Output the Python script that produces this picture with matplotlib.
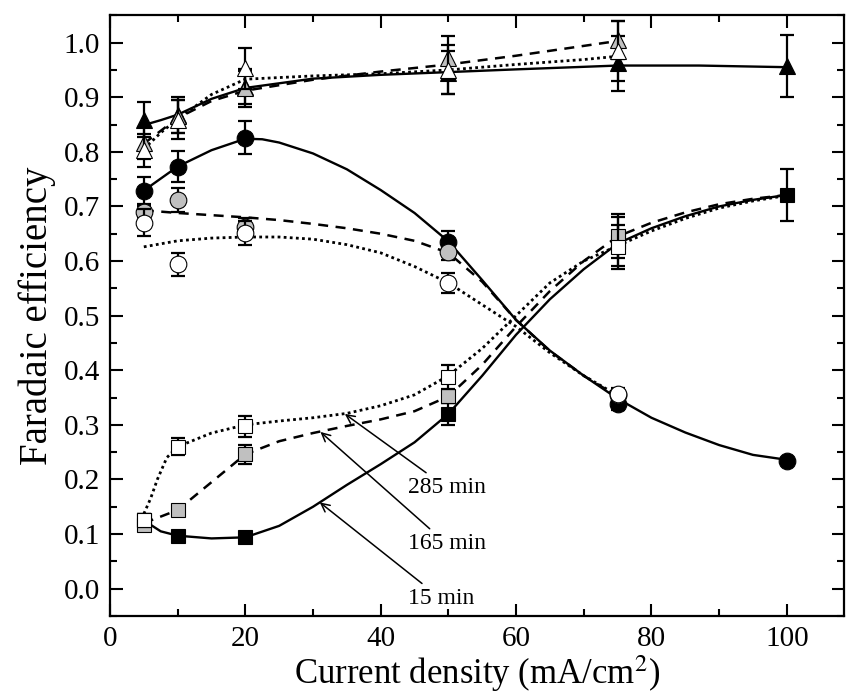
import numpy as np
import matplotlib
matplotlib.use('Agg')
import matplotlib.pyplot as plt
from matplotlib.ticker import MultipleLocator, FormatStrFormatter

plt.rcParams['font.family'] = ['Liberation Serif', 'DejaVu Serif']
plt.rcParams['mathtext.fontset'] = 'stix'

# измерения: плотность тока (мА/см2)
j = [5, 10, 20, 50, 75, 100]

# треугольники
tri_15 = [0.859, 0.868, 0.918, 0.945, 0.962, 0.957]
tri_15_err = [0.032, 0.033, 0.03, 0.04, 0.05, 0.057]
tri_165 = [0.816, 0.865, 0.917, 0.972, 1.005]
tri_165_err = [0.03, 0.03, 0.035, 0.04, 0.035]
tri_285 = [0.803, 0.859, 0.953, 0.950, 0.984]
tri_285_err = [0.03, 0.035, 0.038, 0.045, 0.055]

# круги
cir_15 = [0.729, 0.773, 0.826, 0.635, 0.338, 0.234]
cir_15_err = [0.025, 0.028, 0.03, 0.02, 0.01, 0.005]
cir_165 = [0.690, 0.712, 0.663, 0.616, 0.355]
cir_165_err = [0.01, 0.022, 0.015, 0.015, 0.01]
cir_285 = [0.670, 0.594, 0.652, 0.560, 0.357]
cir_285_err = [0.025, 0.021, 0.022, 0.018, 0.01]

# квадраты
sq_15 = [0.126, 0.097, 0.094, 0.320, 0.635, 0.721]
sq_15_err = [0.01, 0.005, 0.005, 0.02, 0.045, 0.048]
sq_165 = [0.117, 0.144, 0.246, 0.352, 0.646]
sq_165_err = [0.01, 0.005, 0.018, 0.012, 0.04]
sq_285 = [0.125, 0.260, 0.297, 0.388, 0.626]
sq_285_err = [0.012, 0.015, 0.02, 0.022, 0.04]

# сглаживающие кривые
tri_15_fx = [5, 7.5, 10, 15, 20, 30, 40, 50, 60, 75, 87, 100]
tri_15_fy = [0.849, 0.858, 0.868, 0.897, 0.917, 0.934, 0.941, 0.946, 0.951, 0.958, 0.958, 0.955]
tri_165_fx = [5, 10, 15, 20, 30, 40, 50, 60, 70, 75]
tri_165_fy = [0.815, 0.862, 0.893, 0.912, 0.932, 0.947, 0.960, 0.976, 0.994, 1.003]
tri_285_fx = [5, 7.5, 10, 15, 20, 30, 40, 50, 60, 70, 75]
tri_285_fy = [0.805, 0.835, 0.860, 0.905, 0.933, 0.939, 0.943, 0.950, 0.960, 0.969, 0.975]

cir_15_fx = [5, 10, 15, 20, 22.5, 25, 30, 35, 40, 45, 50, 55, 60, 65, 70, 75, 80, 85, 90, 95, 100]
cir_15_fy = [0.729, 0.773, 0.803, 0.824, 0.823, 0.817, 0.797, 0.768, 0.730, 0.688, 0.636, 0.565,
             0.492, 0.436, 0.390, 0.348, 0.313, 0.286, 0.263, 0.245, 0.236]
cir_165_fx = [5, 10, 20, 25, 30, 35, 40, 45, 50, 55, 60, 65, 70, 75]
cir_165_fy = [0.693, 0.688, 0.680, 0.675, 0.668, 0.660, 0.650, 0.637, 0.615, 0.562,
              0.492, 0.435, 0.390, 0.352]
cir_285_fx = [5, 10, 15, 20, 25, 30, 35, 40, 45, 50, 55, 60, 65, 70, 75]
cir_285_fy = [0.626, 0.637, 0.642, 0.644, 0.644, 0.640, 0.630, 0.615, 0.590, 0.560,
              0.520, 0.480, 0.432, 0.390, 0.354]

sq_15_fx = [5, 7.5, 10, 15, 20, 25, 30, 35, 40, 45, 50, 55, 60, 65, 70, 75, 80, 85, 90, 95, 100]
sq_15_fy = [0.125, 0.105, 0.097, 0.092, 0.094, 0.115, 0.150, 0.190, 0.228, 0.268, 0.320,
            0.390, 0.465, 0.530, 0.585, 0.632, 0.660, 0.682, 0.700, 0.712, 0.721]
sq_165_fx = [5, 10, 15, 20, 25, 30, 35, 40, 45, 50, 55, 60, 65, 70, 75, 80, 85, 90, 95, 100]
sq_165_fy = [0.120, 0.144, 0.195, 0.246, 0.270, 0.285, 0.298, 0.310, 0.325, 0.352, 0.410,
             0.480, 0.545, 0.600, 0.645, 0.670, 0.689, 0.704, 0.714, 0.721]
sq_285_fx = [5, 6, 7, 8.4, 10, 15, 20, 25, 30, 35, 40, 45, 50, 55, 60, 65, 70, 75, 80, 85, 90, 95, 100]
sq_285_fy = [0.137, 0.165, 0.200, 0.240, 0.260, 0.285, 0.300, 0.307, 0.313, 0.321, 0.335,
             0.355, 0.390, 0.440, 0.500, 0.560, 0.600, 0.628, 0.655, 0.678, 0.697, 0.710, 0.720]

labels = ['285 min', '165 min', '15 min']
label_xy = [(44.0, 0.185), (44.0, 0.082), (44.0, -0.018)]
arrow_tip = [(34.7, 0.320), (31.1, 0.287), (31.0, 0.158)]

gray = '#c0c0c0'

fig = plt.figure(figsize=(8.46, 6.96), dpi=100)
ax = fig.add_axes([0.130, 0.115, 0.868, 0.863])

# кривые
for fx, fy in [(tri_15_fx, tri_15_fy), (cir_15_fx, cir_15_fy), (sq_15_fx, sq_15_fy)]:
    ax.plot(fx, fy, color='black', ls='-', lw=1.7, zorder=2, solid_joinstyle='round')
for fx, fy in [(tri_165_fx, tri_165_fy), (cir_165_fx, cir_165_fy), (sq_165_fx, sq_165_fy)]:
    ax.plot(fx, fy, color='black', ls=(0, (4, 3)), lw=1.8, zorder=2)
for fx, fy in [(tri_285_fx, tri_285_fy), (cir_285_fx, cir_285_fy), (sq_285_fx, sq_285_fy)]:
    ax.plot(fx, fy, color='black', ls=(0, (1, 1.2)), lw=2.0, zorder=2)

# точки с погрешностями
series = [
    (tri_15, tri_15_err, '^', 'black', 12),
    (tri_165, tri_165_err, '^', gray, 12),
    (tri_285, tri_285_err, '^', 'white', 12),
    (cir_15, cir_15_err, 'o', 'black', 12),
    (cir_165, cir_165_err, 'o', gray, 12),
    (cir_285, cir_285_err, 'o', 'white', 12),
    (sq_15, sq_15_err, 's', 'black', 9.5),
    (sq_165, sq_165_err, 's', gray, 9.5),
    (sq_285, sq_285_err, 's', 'white', 9.5),
]
z = 3
for vals, errs, m, fc, ms in series:
    xs = j[:len(vals)]
    ax.errorbar(xs, vals, yerr=errs, fmt='none', ecolor='black', elinewidth=1.6,
                capsize=5, capthick=1.6, zorder=z)
    ax.plot(xs, vals, ls='none', marker=m, ms=ms, mfc=fc, mec='black', mew=0.8, zorder=z + 0.5)
    z += 1

for lab, (tx, ty), (px, py) in zip(labels, label_xy, arrow_tip):
    ax.annotate(lab, xy=(px, py), xytext=(tx, ty), fontsize=17, va='center', ha='left',
                arrowprops=dict(arrowstyle='->', color='black', lw=1.1,
                                shrinkA=2, shrinkB=0, mutation_scale=15), zorder=20)

ax.set_xlim(0, 108.5)
ax.set_ylim(-0.05, 1.05)
ax.xaxis.set_major_locator(MultipleLocator(20))
ax.xaxis.set_minor_locator(MultipleLocator(10))
ax.yaxis.set_major_locator(MultipleLocator(0.1))
ax.yaxis.set_minor_locator(MultipleLocator(0.05))
ax.yaxis.set_major_formatter(FormatStrFormatter('%.1f'))
ax.tick_params(which='both', direction='in', top=True, right=True, width=1.5)
ax.tick_params(which='major', length=9, labelsize=21, pad=7)
ax.tick_params(which='minor', length=5)
for s in ax.spines.values():
    s.set_linewidth(1.6)

ax.set_xlabel('Current density (mA/cm$^2$)', fontsize=25, labelpad=1)
ax.set_ylabel('Faradaic efficiency', fontsize=28, labelpad=6)

fig.savefig('out.png', dpi=100)
